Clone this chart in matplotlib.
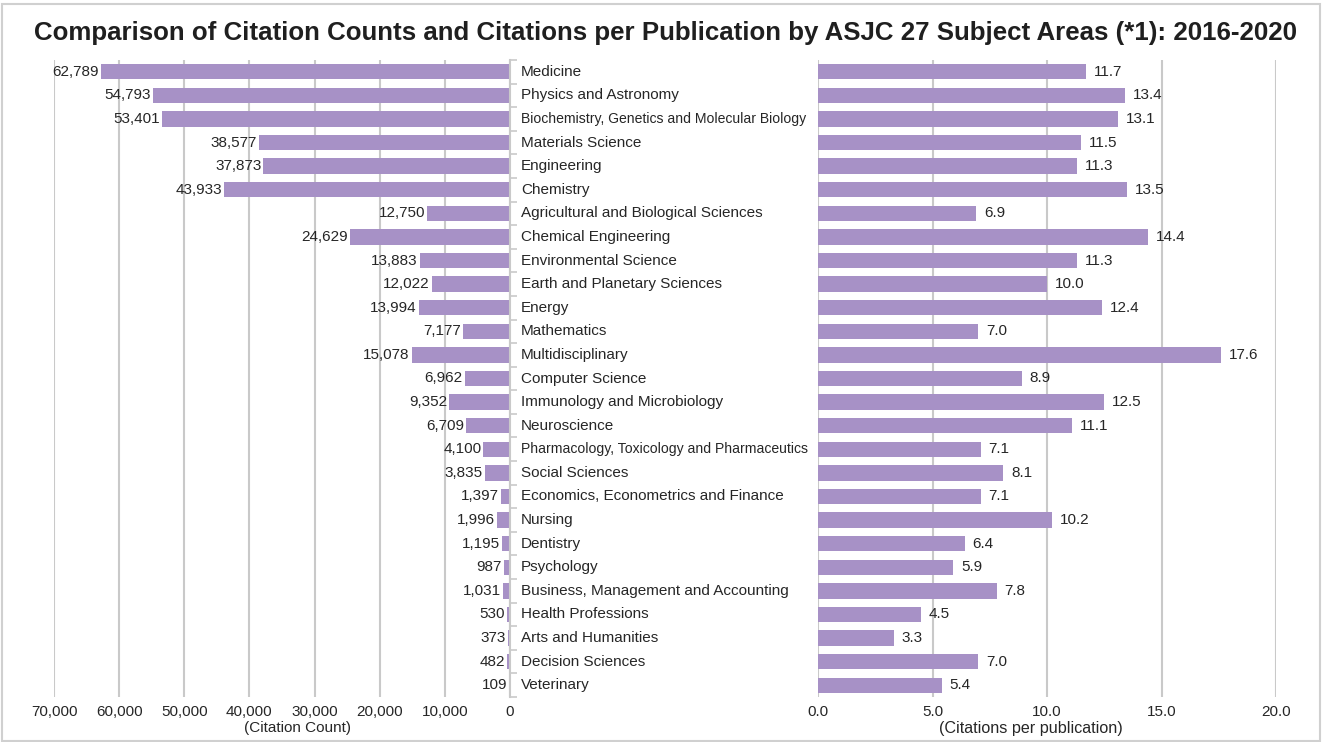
import matplotlib
matplotlib.use("Agg")
import matplotlib.pyplot as plt
from matplotlib.ticker import FuncFormatter, FixedLocator
from matplotlib.patches import Rectangle
import numpy as np

plt.rcParams['font.family'] = ['Liberation Sans', 'DejaVu Sans']

categories = [
    "Medicine", "Physics and Astronomy", "Biochemistry, Genetics and Molecular Biology",
    "Materials Science", "Engineering", "Chemistry", "Agricultural and Biological Sciences",
    "Chemical Engineering", "Environmental Science", "Earth and Planetary Sciences", "Energy",
    "Mathematics", "Multidisciplinary", "Computer Science", "Immunology and Microbiology",
    "Neuroscience", "Pharmacology, Toxicology and Pharmaceutics", "Social Sciences",
    "Economics, Econometrics and Finance", "Nursing", "Dentistry", "Psychology",
    "Business, Management and Accounting", "Health Professions", "Arts and Humanities",
    "Decision Sciences", "Veterinary",
]
citation_counts = [62789, 54793, 53401, 38577, 37873, 43933, 12750, 24629, 13883, 12022,
                   13994, 7177, 15078, 6962, 9352, 6709, 4100, 3835, 1397, 1996, 1195, 987,
                   1031, 530, 373, 482, 109]
citations_per_pub = [11.7, 13.4, 13.1, 11.5, 11.3, 13.5, 6.9, 14.4, 11.3, 10.0, 12.4, 7.0,
                     17.6, 8.9, 12.5, 11.1, 7.1, 8.1, 7.1, 10.2, 6.4, 5.9, 7.8, 4.5, 3.3,
                     7.0, 5.4]
left_ticks = [0, 10000, 20000, 30000, 40000, 50000, 60000, 70000]
right_ticks = [0.0, 5.0, 10.0, 15.0, 20.0]

title = "Comparison of Citation Counts and Citations per Publication by ASJC 27 Subject Areas (*1): 2016-2020"
left_xlabel = "(Citation Count)"
right_xlabel = "(Citations per publication)"

BAR = "#A791C6"
TXT = "#262626"
GRID = "#C9C9C9"

W, H = 1322, 742
fig = plt.figure(figsize=(W / 100, H / 100), dpi=100)

def fx(px):
    return px / W

def fy(py):
    return 1 - py / H

top_px, bot_px = 60, 697
L0, L1 = 54, 510
R0, R1 = 818, 1276
axL = fig.add_axes([fx(L0), fy(bot_px), fx(L1 - L0), (bot_px - top_px) / H])
axR = fig.add_axes([fx(R0), fy(bot_px), fx(R1 - R0), (bot_px - top_px) / H])

n = len(categories)
y = np.arange(n)
label_y = -(728 - bot_px) / (bot_px - top_px)

for ax in (axL, axR):
    ax.set_ylim(n - 0.5, -0.5)
    for s in ax.spines.values():
        s.set_visible(False)
    ax.grid(axis='x', color=GRID, linewidth=1.5)
    ax.set_axisbelow(True)
    ax.tick_params(axis='x', length=0, labelsize=11, colors=TXT, pad=6)

bh = 0.65
axL.barh(y, citation_counts, height=bh, color=BAR, zorder=2)
axL.set_xlim(70000, 0)
axL.xaxis.set_major_locator(FixedLocator(left_ticks))
axL.xaxis.set_major_formatter(FuncFormatter(lambda v, p: f"{int(v):,}"))
axL.set_xlabel(left_xlabel, fontsize=11, color=TXT)
axL.xaxis.set_label_coords((297 - L0) / (L1 - L0), label_y, transform=axL.transAxes)
axL.xaxis.label.set_va('center')
# right spine of left axes with ticks between categories
axL.spines['right'].set_visible(True)
axL.spines['right'].set_color(GRID)
axL.spines['right'].set_linewidth(1.5)
axL.yaxis.set_ticks_position('right')
axL.set_yticks(np.arange(-0.5, n, 1.0))
axL.set_yticklabels([])
axL.tick_params(axis='y', direction='out', length=5, color=GRID, width=1.2)

for yi, v in zip(y, citation_counts):
    axL.text(v + 300, yi, f"{v:,}", ha='right', va='center', fontsize=11, color=TXT, zorder=3)

axR.barh(y, citations_per_pub, height=bh, color=BAR, zorder=2)
axR.set_xlim(0, 20)
axR.xaxis.set_major_locator(FixedLocator(right_ticks))
axR.xaxis.set_major_formatter(FuncFormatter(lambda v, p: f"{v:.1f}"))
axR.set_yticks([])
axR.set_xlabel(right_xlabel, fontsize=11.6, color=TXT)
axR.xaxis.set_label_coords((1031 - R0) / (R1 - R0), label_y, transform=axR.transAxes)
axR.xaxis.label.set_va('center')
for yi, v in zip(y, citations_per_pub):
    axR.text(v + 0.35, yi, f"{v:.1f}", ha='left', va='center', fontsize=11, color=TXT, zorder=3)

# category labels between panels
lab_x = (521 - L0) / (L1 - L0)
for yi, c in zip(y, categories):
    fs = 11
    if len(c) > 40:
        fs = 10.1
    axL.text(lab_x, yi, c, transform=axL.get_yaxis_transform(),
             ha='left', va='center', fontsize=fs, color=TXT, clip_on=False)

fig.text(0.5 + fx(4), fy(33), title, ha='center', va='center', fontsize=18.6,
         fontweight='bold', color="#1F1F1F")

fig.patches.append(Rectangle((fx(2), fy(H - 1)), fx(W - 4), fy(4) - fy(H - 1),
                             transform=fig.transFigure, fill=False, edgecolor="#D0D0D0",
                             linewidth=1.5))

fig.savefig("out.png", dpi=100)
